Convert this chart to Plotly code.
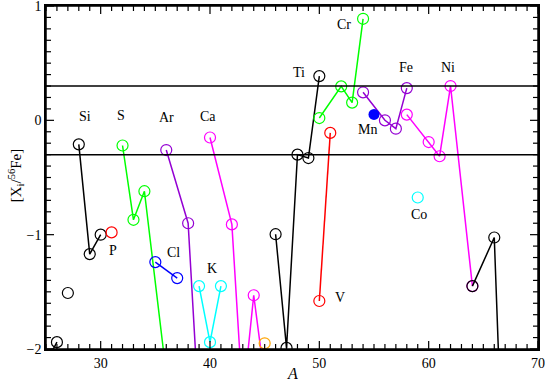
import plotly.graph_objects as go

# isotope ratios [X_i/56Fe], grouped by element
mg_A = [24, 25, 26]
mg_y = [-2.6, -2.12, -1.94]
al_A = [27]
al_y = [-1.51]
si_A = [28, 29, 30]
si_y = [-0.21, -1.17, -1.0]
p_A = [31]
p_y = [-0.98]
s_A = [32, 33, 34, 36]
s_y = [-0.22, -0.87, -0.62, -2.22]
cl_A = [35, 37]
cl_y = [-1.24, -1.38]
ar_A = [36, 38, 40]
ar_y = [-0.26, -0.90, -4.23]
k_A = [39, 40, 41]
k_y = [-1.45, -1.94, -1.45]
ca_A = [40, 42, 43, 44, 46]
ca_y = [-0.15, -0.91, -2.46, -1.53, -3.0]
sc_A = [45]
sc_y = [-1.95]
ti_A = [46, 47, 48, 49, 50]
ti_y = [-0.996, -1.99, -0.30, -0.33, 0.387]
v_A = [50, 51]
v_y = [-1.58, -0.11]
cr_A = [50, 52, 53, 54]
cr_y = [0.02, 0.297, 0.155, 0.888]
mn_A = [55]
mn_y = [0.052]
fe_A = [54, 56, 57, 58]
fe_y = [0.245, 0.0, -0.073, 0.282]
co_A = [59]
co_y = [-0.675]
ni_A = [58, 60, 61, 62, 64]
ni_y = [0.05, -0.19, -0.314, 0.30, -1.45]
zn_A = [64, 66, 67]
zn_y = [-1.45, -1.025, -3.65]

labels = ["Si", "S", "Ar", "Ca", "P", "Cl", "K", "Ti", "Cr", "Mn", "Fe", "Ni", "Co", "V"]
label_A = [28.57, 31.86, 35.98, 39.85, 31.1, 36.65, 40.2, 48.15, 52.29, 54.4, 57.9, 61.78, 59.1, 51.9]
label_y = [0.03, 0.044, 0.023, 0.03, -1.135, -1.16, -1.295, 0.417, 0.838, -0.079, 0.466, 0.466, -0.82, -1.55]

purple = "#9400d3"
series = [
    (mg_A, mg_y, "black", "lines+markers"),
    (al_A, al_y, "black", "markers"),
    (si_A, si_y, "black", "lines+markers"),
    (p_A, p_y, "red", "markers"),
    (s_A, s_y, "#00ff00", "lines+markers"),
    (cl_A, cl_y, "blue", "lines+markers"),
    (ar_A, ar_y, purple, "lines+markers"),
    (k_A, k_y, "cyan", "lines+markers"),
    (ca_A, ca_y, "magenta", "lines+markers"),
    (sc_A, sc_y, "orange", "markers"),
    (ti_A, ti_y, "black", "lines+markers"),
    (v_A, v_y, "red", "lines+markers"),
    (cr_A, cr_y, "#00ff00", "lines+markers"),
    (fe_A, fe_y, purple, "lines+markers"),
    (co_A, co_y, "cyan", "markers"),
    (ni_A, ni_y, "magenta", "lines+markers"),
    (zn_A, zn_y, "black", "lines+markers"),
]

W, H = 545, 382
ML, MR, MT, MB = 46, 7, 6, 33
pw, ph = W - ML - MR, H - MT - MB

fig = go.Figure()
for xs, ys, col, mode in series:
    fig.add_trace(go.Scatter(x=xs, y=ys, mode=mode, cliponaxis=True,
                             line=dict(color=col, width=1.5),
                             marker=dict(symbol="circle-open", size=11, color=col, line=dict(width=1.2))))
fig.add_trace(go.Scatter(x=mn_A, y=mn_y, mode="markers",
                         marker=dict(symbol="circle", size=11, color="blue")))

shapes = []
for yy in [0.3, -0.3]:
    shapes.append(dict(type="line", xref="paper", x0=0, x1=1, yref="y", y0=yy, y1=yy,
                       line=dict(color="black", width=1.5)))
# frame round the plot area
shapes.append(dict(type="rect", xref="paper", yref="paper", x0=0, x1=1, y0=0, y1=1,
                   line=dict(color="black", width=1.5)))

# inward ticks on all four sides (major every 10 / 1, minor every 1 / 0.1)
for a in range(25, 71):
    ln = 8 if a % 10 == 0 else 5
    t = ln / ph
    for y0, y1 in [(0, t), (1, 1 - t)]:
        shapes.append(dict(type="line", xref="x", yref="paper", x0=a, x1=a, y0=y0, y1=y1,
                           line=dict(color="black", width=1.2)))
for k in range(-20, 11):
    ln = 8 if k % 10 == 0 else 5
    t = ln / pw
    for x0, x1 in [(0, t), (1, 1 - t)]:
        shapes.append(dict(type="line", xref="paper", yref="y", x0=x0, x1=x1, y0=k / 10, y1=k / 10,
                           line=dict(color="black", width=1.2)))

for t, xa, ya in zip(labels, label_A, label_y):
    fig.add_annotation(x=xa, y=ya, text=t, showarrow=False,
                       font=dict(family="Liberation Serif", size=14, color="black"))

fig.add_annotation(xref="paper", yref="paper", x=-0.062, y=0.505, xanchor="center", yanchor="middle",
                   text="[X<sub>i</sub>/<sup>56</sup>Fe]", textangle=-90, showarrow=False,
                   font=dict(family="Liberation Serif", size=15, color="black"))
fig.add_annotation(xref="paper", yref="paper", x=0.5, y=-0.072, xanchor="center", yanchor="middle",
                   text="<i>A</i>", showarrow=False,
                   font=dict(family="Liberation Serif", size=16, color="black"))

axis_common = dict(showgrid=False, zeroline=False, showline=True, linecolor="black", linewidth=1.5,
                   mirror=True, ticks="", automargin=False, ticklabeloverflow="allow",
                   tickfont=dict(family="Liberation Serif", size=14, color="black"))

fig.update_xaxes(range=[25, 70], tickmode="linear", tick0=30, dtick=10, **axis_common)
fig.update_yaxes(range=[-2, 1], tickmode="linear", tick0=0, dtick=1, **axis_common)

fig.update_layout(width=W, height=H, showlegend=False, shapes=shapes,
                  margin=dict(l=ML, r=MR, t=MT, b=MB),
                  plot_bgcolor="white", paper_bgcolor="white")

# page body has a default 8px margin; drop it so the figure sits at the window corner
fig.write_html("out.html", config={"displayModeBar": False},
               post_script="document.body.style.margin='0';")
